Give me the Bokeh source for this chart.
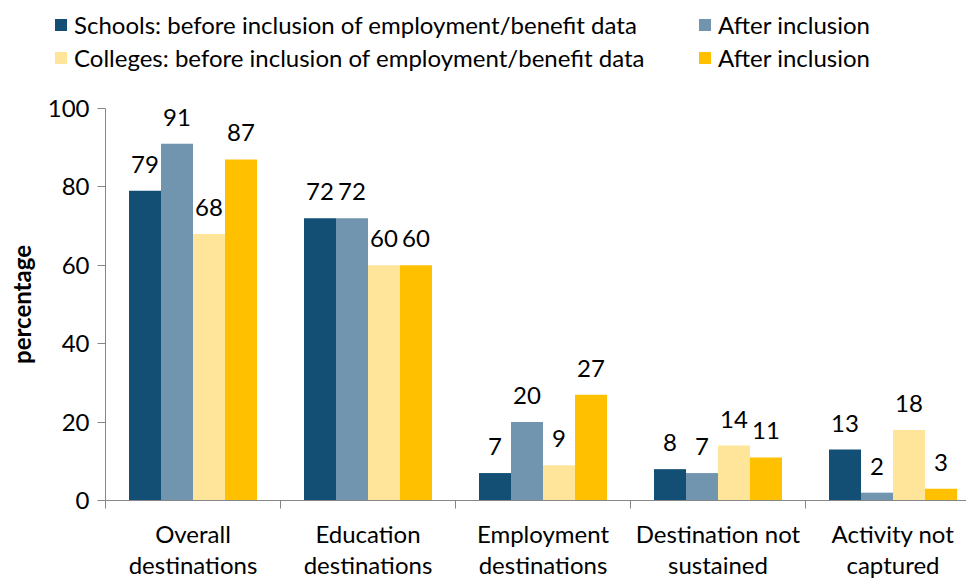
from bokeh.plotting import figure
from bokeh.models import (ColumnDataSource, Range1d, FixedTicker, Legend, LegendItem,
                          LabelSet)
from bokeh.core.properties import value
from bokeh.transform import dodge
from bokeh.embed import file_html
from bokeh.resources import INLINE

categories = ["Overall\ndestinations", "Education\ndestinations", "Employment\ndestinations",
              "Destination not\nsustained", "Activity not\ncaptured"]
schools_before = [79, 72, 7, 8, 13]
schools_after = [91, 72, 20, 7, 2]
colleges_before = [68, 60, 9, 14, 18]
colleges_after = [87, 60, 27, 11, 3]
series_names = ["Schools: before inclusion of employment/benefit data", "After inclusion",
                "Colleges: before inclusion of employment/benefit data", "After inclusion"]
colors = ["#134F75", "#7195AE", "#FEE59A", "#FFC000"]
y_ticks = [0, 20, 40, 60, 80, 100]

FONT = "Lato"
FS = "24px"
xs = [i + 0.5 for i in range(len(categories))]
src = ColumnDataSource(dict(x=xs, sb=schools_before, sa=schools_after,
                            cb=colleges_before, ca=colleges_after,
                            sbt=[str(v) for v in schools_before],
                            sat=[str(v) for v in schools_after],
                            cbt=[str(v) for v in colleges_before],
                            cat=[str(v) for v in colleges_after]))

W, H = 966, 581
# screen geometry: category axis starts at x=105px, 175px per category;
# y: 0 at 500px, 100 at 108px
X0, CW = 105, 175.0
Y0, Y100 = 500, 108
ppu = (Y0 - Y100) / 100.0
x_end = (W - X0) / CW
xr = Range1d(-X0 / CW, x_end)
yr = Range1d(-(H - Y0) / ppu, Y0 / ppu)

p = figure(width=W, height=H, output_backend="svg", toolbar_location=None,
           x_range=xr, y_range=yr,
           min_border_left=0, min_border_right=0, min_border_top=0, min_border_bottom=0)
p.outline_line_color = None
p.grid.grid_line_color = None

bw = 32 / CW
offs = [-1.5 * bw, -0.5 * bw, 0.5 * bw, 1.5 * bw]
fields = ["sb", "sa", "cb", "ca"]
tfields = ["sbt", "sat", "cbt", "cat"]
bars = []
for f, tf, o, c in zip(fields, tfields, offs, colors):
    r = p.vbar(x=dodge("x", o, range=p.x_range), top=f, width=bw, bottom=0,
               source=src, fill_color=c, line_color=None)
    bars.append(r)
    ls = LabelSet(x=dodge("x", o, range=p.x_range), y=f, text=tf, source=src,
                  text_align="center", text_baseline="alphabetic", y_offset=18,
                  text_font=value(FONT), text_font_size=value(FS), text_color="#000000")
    p.add_layout(ls)

xa = p.xaxis[0]
xa.fixed_location = 0
xa.bounds = (0, x_end)
xa.ticker = FixedTicker(ticks=xs, minor_ticks=list(range(len(categories) + 1)))
xa.major_label_overrides = {x: c for x, c in zip(xs, categories)}
xa.major_tick_line_color = None
xa.major_tick_out = 0
xa.major_tick_in = 0
xa.minor_tick_line_color = "#868686"
xa.minor_tick_out = 8
xa.minor_tick_in = 0
xa.axis_line_color = "#868686"
xa.major_label_text_font = FONT
xa.major_label_text_font_size = FS
xa.major_label_text_color = "#000000"
xa.major_label_text_line_height = 1.1
xa.major_label_standoff = 10

ya = p.yaxis[0]
ya.fixed_location = 0
ya.bounds = (0, 100)
ya.ticker = FixedTicker(ticks=y_ticks, minor_ticks=[])
ya.axis_line_color = "#868686"
ya.major_tick_line_color = "#868686"
ya.major_tick_out = 8
ya.major_tick_in = 0
ya.major_label_text_font = FONT
ya.major_label_text_font_size = FS
ya.major_label_text_color = "#000000"
ya.major_label_standoff = 8
ya.axis_label = "percentage"
ya.axis_label_text_font = FONT
ya.axis_label_text_font_style = "bold"
ya.axis_label_text_font_size = FS
ya.axis_label_text_color = "#000000"
ya.axis_label_standoff = 9


def make_legend(items, loc):
    lg = Legend(items=items, location=loc, orientation="vertical",
                label_text_font=FONT, label_text_font_size=FS, label_text_color="#000000",
                glyph_width=15, glyph_height=15, label_standoff=6, spacing=3,
                padding=0, margin=0, border_line_color=None, background_fill_alpha=0,
                label_height=30)
    p.add_layout(lg, "center")


# legend: glyph left edges at 53px / 697px, block top at 9px
make_legend([LegendItem(label=series_names[0], renderers=[bars[0]]),
             LegendItem(label=series_names[2], renderers=[bars[2]])], (53, H - 72))
make_legend([LegendItem(label=series_names[1], renderers=[bars[1]]),
             LegendItem(label=series_names[3], renderers=[bars[3]])], (697, H - 72))

open("out.html", "w").write(file_html(p, INLINE))
